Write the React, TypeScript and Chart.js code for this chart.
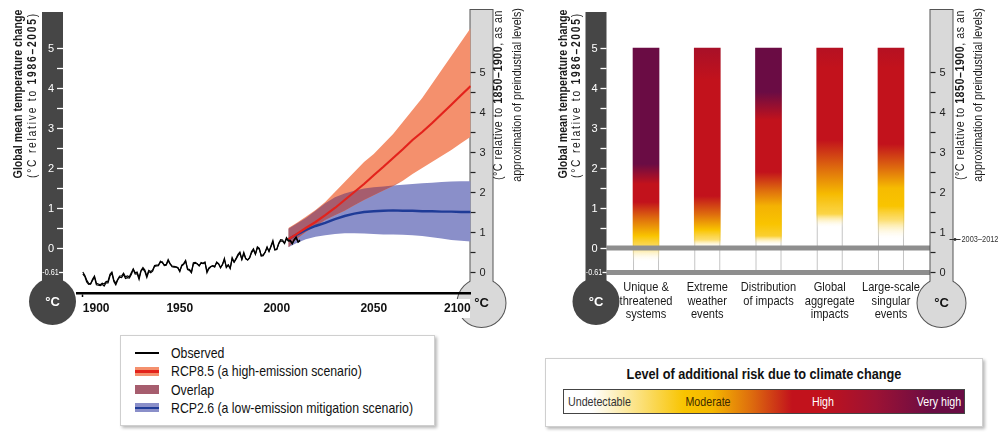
import React, { useEffect, useRef } from "react";
import { Chart, registerables } from "chart.js";

Chart.register(...registerables);

const SANS = '"Liberation Sans", Arial, sans-serif';
const SX = 0.82; // horizontal squeeze to imitate a condensed face

// ---------------- Data ----------------
// Observed global mean temperature change (°C relative to 1986–2005), annual from 1900
const observedStartYear = 1900;
const observedA = [
  -0.65, -0.71, -0.85, -0.91, -0.9, -0.81, -0.73, -0.92, -0.93, -0.94,
  -0.91, -0.95, -0.87, -0.87, -0.7, -0.63, -0.84, -0.92, -0.8, -0.73,
  -0.74, -0.66, -0.76, -0.74, -0.75, -0.66, -0.54, -0.65, -0.64, -0.79,
  -0.58, -0.52, -0.59, -0.74, -0.59, -0.62, -0.58, -0.46, -0.45, -0.44,
  -0.33, -0.37, -0.42, -0.41, -0.29, -0.39, -0.47, -0.48, -0.48, -0.5,
  -0.59, -0.43, -0.39, -0.31, -0.54, -0.56, -0.62, -0.37, -0.36, -0.39,
  -0.45, -0.36, -0.38, -0.35, -0.62, -0.52, -0.47, -0.45, -0.48, -0.35,
  -0.39, -0.5, -0.41, -0.26, -0.49, -0.43, -0.52, -0.24, -0.35, -0.26,
  -0.16, -0.1, -0.28, -0.11, -0.26, -0.3, -0.24, -0.09, -0.02, -0.15,
  0.03, -0.01, -0.2, -0.19, -0.1, 0.03, -0.09, 0.05, 0.19, -0.04,
  -0.03, 0.12, 0.21, 0.2, 0.12, 0.26, 0.19, 0.19, 0.12, 0.22,
  0.28, 0.16, 0.2,
];
const observedB = [
  -0.6, -0.68, -0.8, -0.88, -0.9, -0.78, -0.7, -0.88, -0.9, -0.92,
  -0.88, -0.9, -0.84, -0.83, -0.66, -0.6, -0.8, -0.88, -0.78, -0.7,
  -0.7, -0.63, -0.72, -0.7, -0.72, -0.62, -0.52, -0.62, -0.6, -0.74,
  -0.56, -0.49, -0.55, -0.7, -0.56, -0.59, -0.55, -0.44, -0.43, -0.42,
  -0.36, -0.35, -0.44, -0.43, -0.32, -0.4, -0.45, -0.46, -0.47, -0.49,
  -0.57, -0.45, -0.41, -0.33, -0.52, -0.54, -0.6, -0.4, -0.38, -0.4,
  -0.44, -0.38, -0.39, -0.37, -0.58, -0.5, -0.46, -0.44, -0.46, -0.37,
  -0.4, -0.48, -0.42, -0.29, -0.47, -0.42, -0.5, -0.27, -0.36, -0.28,
  -0.19, -0.13, -0.29, -0.14, -0.27, -0.3, -0.25, -0.12, -0.05, -0.16,
  0.0, -0.03, -0.19, -0.17, -0.11, 0.01, -0.08, 0.03, 0.15, -0.05,
  -0.04, 0.1, 0.18, 0.17, 0.11, 0.23, 0.17, 0.17, 0.1, 0.2,
  0.25, 0.14, 0.18,
];

// Projections (°C relative to 1986–2005)
const projectionYears = [2006, 2010, 2015, 2020, 2025, 2030, 2035, 2040, 2045, 2050, 2055, 2060, 2065, 2070, 2075, 2080, 2085, 2090, 2095, 2100];
const rcp85Mean = [0.22, 0.34, 0.5, 0.65, 0.82, 1.0, 1.2, 1.4, 1.6, 1.82, 2.03, 2.25, 2.47, 2.7, 2.9, 3.12, 3.35, 3.58, 3.82, 4.05];
const rcp85High = [0.5, 0.62, 0.78, 0.95, 1.15, 1.4, 1.65, 1.9, 2.15, 2.35, 2.6, 2.85, 3.15, 3.45, 3.75, 4.1, 4.45, 4.8, 5.15, 5.5];
const rcp85Low = [0.02, 0.22, 0.4, 0.55, 0.7, 0.82, 0.93, 1.07, 1.2, 1.32, 1.44, 1.55, 1.68, 1.85, 2.0, 2.15, 2.3, 2.45, 2.62, 2.78];
const rcp26Mean = [0.22, 0.33, 0.45, 0.55, 0.63, 0.72, 0.8, 0.86, 0.9, 0.92, 0.93, 0.94, 0.93, 0.93, 0.92, 0.92, 0.91, 0.91, 0.9, 0.9];
const rcp26High = [0.48, 0.6, 0.75, 0.93, 1.12, 1.27, 1.36, 1.43, 1.49, 1.52, 1.54, 1.56, 1.58, 1.6, 1.62, 1.63, 1.65, 1.66, 1.67, 1.67];
const rcp26Low = [0.02, 0.12, 0.22, 0.28, 0.32, 0.35, 0.37, 0.37, 0.36, 0.35, 0.34, 0.34, 0.33, 0.32, 0.3, 0.27, 0.24, 0.2, 0.18, 0.16];

const xTickYears = [1900, 1950, 2000, 2050, 2100];

// Thermometer scales
const preindustrialOffset = 0.61; // 1850–1900 is 0.61 °C below 1986–2005
const leftScaleTicks = [-0.61, 0, 0.5, 1, 1.5, 2, 2.5, 3, 3.5, 4, 4.5, 5];
const leftScaleLabels = ["-0.61", "0", "", "1", "", "2", "", "3", "", "4", "", "5"];
const rightScaleTicks = [0, 0.5, 1, 1.5, 2, 2.5, 3, 3.5, 4, 4.5, 5];
const rightScaleLabels = ["0", "", "1", "", "2", "", "3", "", "4", "", "5"];
const recentWarmingLabel = "2003–2012";
const recentWarming = 0.83; // relative to 1850–1900
const baselineLevels = [0, -0.61];

// Reasons for concern
const riskCategories = [
  ["Unique &", "threatened", "systems"],
  ["Extreme", "weather", "events"],
  ["Distribution", "of impacts"],
  ["Global", "aggregate", "impacts"],
  ["Large-scale", "singular", "events"],
];
const riskAssessedFrom = [-0.61, -0.61, -0.61, -0.61, -0.61];
const riskAssessedTo = [5, 5, 5, 5, 5];
// [temperature, risk level] ; 0 undetectable, 1 moderate, 2 high, 3 very high
const riskTransitions = [
  [[-0.35, 0], [0.05, 0.8], [0.3, 1], [0.75, 1.5], [1.15, 2], [1.6, 2], [2.1, 3]],
  [[0.0, 0], [0.2, 0.75], [0.45, 1], [0.85, 1.5], [1.3, 2], [4.2, 2], [5.0, 2.3]],
  [[0.05, 0], [0.3, 0.9], [0.6, 1], [1.05, 1.1], [1.45, 1.5], [1.9, 2], [3.2, 2], [3.9, 3]],
  [[0.5, 0], [0.85, 0.85], [1.35, 1.05], [2.0, 1.5], [2.7, 2], [4.5, 2], [5.0, 2.15]],
  [[0.2, 0], [0.7, 0.75], [1.05, 1], [1.5, 1.05], [2.0, 1.5], [2.6, 2], [4.5, 2], [5.0, 2.15]],
];
const riskLevelNames = ["Undetectable", "Moderate", "High", "Very high"];

// ---------------- Styles ----------------
const C = {
  rcp85Line: "#e3231c",
  rcp85Band: "#f4906d",
  overlap: "#a65d6e",
  rcp26Line: "#1f3b97",
  rcp26Band: "#8a8fc9",
  dark: "#464646",
  light: "#d9d9d9",
  baseline: "#8e8e8e",
};
const riskPalette = [
  [255, 255, 255, 0],
  [249, 196, 0, 1],
  [194, 18, 28, 1],
  [106, 12, 68, 1],
];
function riskColor(level: number) {
  const l = Math.max(0, Math.min(3, level));
  const i = Math.min(2, Math.floor(l));
  const f = l - i;
  const a = riskPalette[i], b = riskPalette[i + 1];
  const m = (k: number) => a[k] + (b[k] - a[k]) * f;
  return `rgba(${Math.round(m(0))},${Math.round(m(1))},${Math.round(m(2))},${m(3).toFixed(3)})`;
}

function narrowText(ctx: CanvasRenderingContext2D, text: string, x: number, y: number, font: string, align: CanvasTextAlign, color: string) {
  ctx.save();
  ctx.font = font;
  ctx.fillStyle = color;
  ctx.textAlign = align;
  ctx.textBaseline = "middle";
  ctx.translate(x, y);
  ctx.scale(SX, 1);
  ctx.fillText(text, 0, 0);
  ctx.restore();
}

const TUBE_TOP = 12;
const BULB_CY = 301.5;
const BULB_R = 23.5;
const TUBE_W = 21;

function drawDarkThermo(ctx: CanvasRenderingContext2D, cx: number, y: any) {
  ctx.save();
  ctx.fillStyle = C.dark;
  ctx.fillRect(cx - TUBE_W / 2, TUBE_TOP, TUBE_W, BULB_CY - TUBE_TOP);
  ctx.beginPath();
  ctx.arc(cx, BULB_CY, BULB_R, 0, Math.PI * 2);
  ctx.fill();
  const right = cx + TUBE_W / 2;
  leftScaleTicks.forEach((v, i) => {
    const py = Math.round(y.getPixelForValue(v)) + 0.5;
    const len = v < 0 ? 4 : 6;
    ctx.strokeStyle = "#fff";
    ctx.lineWidth = 1.3;
    ctx.beginPath();
    ctx.moveTo(right - len, py);
    ctx.lineTo(right, py);
    ctx.stroke();
    const lab = leftScaleLabels[i];
    if (lab) {
      if (v < 0) {
        narrowText(ctx, lab, right - len - 0.3, py, `8.8px ${SANS}`, "right", "#fff");
      } else {
        ctx.fillStyle = "#fff";
        ctx.textBaseline = "middle";
        ctx.textAlign = "right";
        ctx.font = `11px ${SANS}`;
        ctx.fillText(lab, cx + 1.5, py);
      }
    }
  });
  ctx.fillStyle = "#fff";
  ctx.font = `bold 13px ${SANS}`;
  ctx.textAlign = "center";
  ctx.textBaseline = "middle";
  ctx.fillText("°C", cx, BULB_CY + 1);
  ctx.restore();
}

function drawLightThermo(ctx: CanvasRenderingContext2D, cx: number, y: any, marker: boolean) {
  ctx.save();
  const w = 22;
  const top = 10;
  const cy = BULB_CY + 1.5;
  const r = 24;
  ctx.strokeStyle = "#555";
  ctx.lineWidth = 2;
  ctx.strokeRect(cx - w / 2, top, w, cy - top);
  ctx.beginPath();
  ctx.arc(cx, cy, r, 0, Math.PI * 2);
  ctx.stroke();
  ctx.fillStyle = C.light;
  ctx.fillRect(cx - w / 2, top, w, cy - top);
  ctx.beginPath();
  ctx.arc(cx, cy, r, 0, Math.PI * 2);
  ctx.fill();
  const left = cx - w / 2;
  rightScaleTicks.forEach((v, i) => {
    const py = Math.round(y.getPixelForValue(v - preindustrialOffset)) + 0.5;
    ctx.strokeStyle = "#222";
    ctx.lineWidth = 1.2;
    ctx.beginPath();
    ctx.moveTo(left, py);
    ctx.lineTo(left + 5, py);
    ctx.stroke();
    const lab = rightScaleLabels[i];
    if (lab) {
      ctx.fillStyle = "#222";
      ctx.font = `11px ${SANS}`;
      ctx.textAlign = "left";
      ctx.textBaseline = "middle";
      ctx.fillText(lab, cx - 2, py);
    }
  });
  if (marker) {
    const py = Math.round(y.getPixelForValue(recentWarming - preindustrialOffset)) + 0.5;
    const rx = cx + w / 2;
    ctx.strokeStyle = "#333";
    ctx.lineWidth = 1;
    ctx.beginPath();
    ctx.moveTo(rx - 3, py);
    ctx.lineTo(rx + 8, py);
    ctx.stroke();
    ctx.fillStyle = "#333";
    ctx.beginPath();
    ctx.arc(rx + 2.5, py, 1.4, 0, Math.PI * 2);
    ctx.fill();
    narrowText(ctx, recentWarmingLabel, rx + 9, py, `9px ${SANS}`, "left", "#333");
  }
  ctx.fillStyle = "#111";
  ctx.font = `bold 13px ${SANS}`;
  ctx.textAlign = "center";
  ctx.textBaseline = "middle";
  ctx.fillText("°C", cx, cy);
  ctx.restore();
}

type Seg = { t: string; b?: boolean };
function drawRotated(ctx: CanvasRenderingContext2D, x: number, cy: number, segs: Seg[], size: number, target: number) {
  ctx.save();
  ctx.translate(x, cy);
  ctx.rotate(-Math.PI / 2);
  ctx.scale(SX, 1);
  ctx.textBaseline = "middle";
  ctx.textAlign = "left";
  ctx.fillStyle = "#1a1a1a";
  const fonts = segs.map((s) => `${s.b ? "bold " : ""}${size}px ${SANS}`);
  const widths: number[] = [];
  let natural = 0;
  let chars = 0;
  segs.forEach((s, i) => {
    ctx.font = fonts[i];
    (ctx as any).letterSpacing = "0px";
    const w = ctx.measureText(s.t).width;
    widths.push(w);
    natural += w;
    chars += s.t.length;
  });
  const extra = target > 0 ? Math.max(0, (target / SX - natural) / chars) : 0;
  let xx = -(natural + extra * chars) / 2;
  segs.forEach((s, i) => {
    ctx.font = fonts[i];
    (ctx as any).letterSpacing = `${extra}px`;
    ctx.fillText(s.t, xx, 0);
    xx += widths[i] + extra * s.t.length;
  });
  ctx.restore();
}

function drawTitles(ctx: CanvasRenderingContext2D, xs: number[]) {
  drawRotated(ctx, xs[0], 94, [{ t: "Global mean temperature change", b: true }], 13, 0);
  drawRotated(ctx, xs[1], 95, [{ t: "(°C relative to " }, { t: "1986–2005", b: true }, { t: ")" }], 12.5, 166);
  drawRotated(ctx, xs[2], 95, [{ t: "(°C relative to " }, { t: "1850–1900", b: true }, { t: ", as an" }], 13, 170);
  drawRotated(ctx, xs[3], 95, [{ t: "approximation of preindustrial levels)" }], 13, 170);
}

const pts = (xs: number[], ys: number[]) => xs.map((x, i) => ({ x, y: ys[i] }));

function leftConfig(): any {
  const obsYears = observedA.map((_, i) => observedStartYear + i);
  const overlapLow = projectionYears.map((_, i) => Math.max(rcp85Low[i], rcp26Low[i]));
  const overlapHigh = projectionYears.map((_, i) => Math.max(overlapLow[i], Math.min(rcp85High[i], rcp26High[i])));
  const line = (label: string, data: any, color: string, width: number, order: number) => ({
    label, data, borderColor: color, borderWidth: width, pointRadius: 0, fill: false, order, tension: 0,
  });
  const edge = (label: string, data: any, order: number, fill?: number, bg?: string) => ({
    label, data, borderColor: "rgba(0,0,0,0)", borderWidth: 0, pointRadius: 0,
    backgroundColor: bg || "rgba(0,0,0,0)", fill: fill === undefined ? false : fill, order, tension: 0,
  });
  return {
    type: "line",
    data: {
      datasets: [
        line("Observed A", pts(obsYears, observedA), "#000", 1.2, 0),
        line("Observed B", pts(obsYears, observedB), "#000", 1.2, 0),
        line("RCP8.5", pts(projectionYears, rcp85Mean), C.rcp85Line, 2.2, 1),
        line("RCP2.6", pts(projectionYears, rcp26Mean), C.rcp26Line, 2.4, 2),
        edge("Overlap high", pts(projectionYears, overlapHigh), 3, 5, C.overlap),
        edge("Overlap low", pts(projectionYears, overlapLow), 3),
        edge("RCP8.5 high", pts(projectionYears, rcp85High), 4, 7, C.rcp85Band),
        edge("RCP8.5 low", pts(projectionYears, rcp85Low), 4),
        edge("RCP2.6 high", pts(projectionYears, rcp26High), 5, 9, C.rcp26Band),
        edge("RCP2.6 low", pts(projectionYears, rcp26Low), 5),
      ],
    },
    options: {
      animation: false,
      responsive: false,
      events: [],
      layout: { autoPadding: false, padding: { left: 77, right: 74.3, top: 12, bottom: 12 } },
      plugins: { legend: { display: false }, tooltip: { enabled: false } },
      scales: {
        x: {
          type: "linear",
          min: 1897,
          max: 2100,
          afterFit: (s: any) => { s.height = 25; },
          afterBuildTicks: (s: any) => { s.ticks = xTickYears.map((v) => ({ value: v })); },
          grid: {
            drawOnChartArea: false,
            drawTicks: true,
            tickLength: 4,
            tickWidth: 1.5,
            tickColor: (c: any) => (c.index === 0 ? "#000" : "rgba(0,0,0,0)"),
          },
          border: { display: true, color: "#000", width: 2.5 },
          ticks: {
            align: "inner",
            padding: 4,
            color: "#111",
            font: { family: SANS, size: 12, weight: "bold" },
            callback: (v: any) => String(v),
          },
        },
        y: { type: "linear", display: false, min: -1.125, max: 5.9 },
      },
    },
    plugins: [
      {
        id: "thermoLeft",
        beforeDraw(chart: any) {
          const ctx = chart.ctx;
          const y = chart.scales.y;
          drawDarkThermo(ctx, 52.5, y);
          drawLightThermo(ctx, 481.5, y, false);
          // white backing behind the last year label
          ctx.save();
          ctx.fillStyle = "#fff";
          ctx.fillRect(443, 299, 27, 19);
          ctx.restore();
          drawTitles(ctx, [18, 33, 498, 517]);
        },
      },
    ],
  };
}

function rightConfig(): any {
  return {
    type: "bar",
    data: {
      labels: riskCategories,
      datasets: [
        {
          label: "Risk",
          data: riskAssessedFrom.map((v, i) => [v, riskAssessedTo[i]]),
          barThickness: 26,
          borderWidth: 0,
          backgroundColor: (c: any) => {
            const chart = c.chart;
            const y = chart.scales && chart.scales.y;
            if (!y || !chart.chartArea) return "#c2121c";
            const i = c.dataIndex;
            const y0 = y.getPixelForValue(riskAssessedFrom[i]);
            const y1 = y.getPixelForValue(riskAssessedTo[i]);
            const g = chart.ctx.createLinearGradient(0, y0, 0, y1);
            const tr = riskTransitions[i];
            g.addColorStop(0, riskColor(tr[0][1]));
            tr.forEach(([t, lvl]) => {
              const p = (y.getPixelForValue(t) - y0) / (y1 - y0);
              g.addColorStop(Math.max(0, Math.min(1, p)), riskColor(lvl));
            });
            g.addColorStop(1, riskColor(tr[tr.length - 1][1]));
            return g;
          },
        },
      ],
    },
    options: {
      animation: false,
      responsive: false,
      events: [],
      layout: { autoPadding: false, padding: { left: 70.4, right: 79.4, top: 12, bottom: 7.6 } },
      plugins: { legend: { display: false }, tooltip: { enabled: false } },
      scales: {
        x: {
          type: "category",
          afterFit: (s: any) => { s.height = 50; },
          grid: { display: false, drawTicks: false },
          border: { display: false },
          ticks: { display: false, autoSkip: false },
        },
        y: { type: "linear", display: false, min: -0.61, max: 5.9 },
      },
    },
    plugins: [
      {
        id: "riskDecor",
        beforeDatasetsDraw(chart: any) {
          const ctx = chart.ctx;
          const meta = chart.getDatasetMeta(0);
          ctx.save();
          ctx.strokeStyle = "#c4c4c4";
          ctx.lineWidth = 1;
          meta.data.forEach((bar: any) => {
            const p = bar.getProps(["x", "y", "base", "width"], true);
            [p.x - p.width / 2 + 0.5, p.x + p.width / 2 - 0.5].forEach((xx) => {
              ctx.beginPath();
              ctx.moveTo(xx, Math.min(p.y, p.base));
              ctx.lineTo(xx, Math.max(p.y, p.base));
              ctx.stroke();
            });
          });
          ctx.restore();
        },
        afterDatasetsDraw(chart: any) {
          const ctx = chart.ctx;
          const y = chart.scales.y;
          ctx.save();
          ctx.strokeStyle = C.baseline;
          ctx.lineWidth = 5;
          baselineLevels.forEach((v) => {
            const py = y.getPixelForValue(v);
            ctx.beginPath();
            ctx.moveTo(51 + TUBE_W / 2, py);
            ctx.lineTo(396.5 - 11, py);
            ctx.stroke();
          });
          ctx.restore();
        },
        afterDraw(chart: any) {
          const ctx = chart.ctx;
          const y = chart.scales.y;
          const x = chart.scales.x;
          // category labels, placed with the category axis
          const bottom = chart.chartArea.bottom;
          (chart.data.labels as string[][]).forEach((lines, i) => {
            const px = x.getPixelForTick(i);
            lines.forEach((ln, k) => {
              narrowText(ctx, ln, px, bottom + 14.6 + k * 13.8, `13.5px ${SANS}`, "center", "#1a1a1a");
            });
          });
          drawDarkThermo(ctx, 51, y);
          drawLightThermo(ctx, 396.5, y, true);
          drawTitles(ctx, [18, 32, 415, 433]);
        },
      },
    ],
  };
}

const legendItems = [
  { label: "Observed", fill: "", line: "#000", lineW: 1.5 },
  { label: "RCP8.5 (a high-emission scenario)", fill: C.rcp85Band, line: C.rcp85Line, lineW: 2.5 },
  { label: "Overlap", fill: C.overlap, line: "", lineW: 0 },
  { label: "RCP2.6 (a low-emission mitigation scenario)", fill: C.rcp26Band, line: C.rcp26Line, lineW: 2.5 },
];

const squeeze = (origin: string) => ({ transform: `scaleX(${SX})`, transformOrigin: origin });

function ScenarioLegend() {
  return (
    <div
      style={{
        position: "absolute", left: 120, top: 335, width: 315, height: 91, boxSizing: "border-box",
        border: "1px solid #cfcfcf", boxShadow: "2px 2px 3px rgba(0,0,0,0.28)", background: "#fff",
      }}
    >
      {legendItems.map((it, i) => (
        <div key={i} style={{ position: "absolute", left: 0, top: 8 + i * 18.3, height: 18.3, width: "100%" }}>
          {it.fill ? (
            <div style={{ position: "absolute", left: 14, top: 4.6, width: 24, height: 9, background: it.fill }} />
          ) : null}
          {it.line ? (
            <div style={{ position: "absolute", left: 14, top: 9.15 - it.lineW / 2, width: 24, height: it.lineW, background: it.line }} />
          ) : null}
          <div
            style={{
              position: "absolute", left: 50, top: 0, lineHeight: "18.3px", fontFamily: SANS,
              fontSize: 15, color: "#111", whiteSpace: "nowrap", ...squeeze("left center"),
            }}
          >
            {it.label}
          </div>
        </div>
      ))}
    </div>
  );
}

function RiskLegend() {
  const lab = (text: string, style: any, origin: string) => (
    <div
      style={{
        position: "absolute", top: 0, lineHeight: "23px", fontFamily: SANS, fontSize: 13, whiteSpace: "nowrap",
        transformOrigin: origin, ...style,
      }}
    >
      {text}
    </div>
  );
  return (
    <div
      style={{
        position: "absolute", left: 545, top: 358, width: 438, height: 69, boxSizing: "border-box",
        border: "1px solid #cfcfcf", boxShadow: "2px 2px 3px rgba(0,0,0,0.28)", background: "#fff",
      }}
    >
      <div
        style={{
          position: "absolute", left: 0, top: 6, width: "100%", textAlign: "center", fontFamily: SANS,
          fontWeight: "bold", fontSize: 15.5, lineHeight: "18px", color: "#111", whiteSpace: "nowrap",
          ...squeeze("center center"),
        }}
      >
        Level of additional risk due to climate change
      </div>
      <div
        style={{
          position: "absolute", left: 17, top: 30, width: 402, height: 25, boxSizing: "border-box",
          border: "1px solid #444",
          background:
            "linear-gradient(to right, #fff 0%, #fff 7%, #f8c400 30%, #f5b800 37%, #dd6b0e 47%, #c2121c 57%, #c2121c 64%, #9c1234 78%, #6a0c44 92%, #6a0c44 100%)",
        }}
      >
        {lab(riskLevelNames[0], { left: 4, color: "#333", transform: `scaleX(${SX})` }, "left center")}
        {lab(riskLevelNames[1], { left: 144, color: "#3d2a00", transform: `translateX(-50%) scaleX(${SX})` }, "center center")}
        {lab(riskLevelNames[2], { left: 259, color: "#fff", transform: `translateX(-50%) scaleX(${SX})` }, "center center")}
        {lab(riskLevelNames[3], { right: 3, color: "#fff", transform: `scaleX(${SX})` }, "right center")}
      </div>
    </div>
  );
}

export default function App() {
  const leftRef = useRef<HTMLCanvasElement>(null);
  const rightRef = useRef<HTMLCanvasElement>(null);
  useEffect(() => {
    const c1 = new Chart(leftRef.current as HTMLCanvasElement, leftConfig());
    const c2 = new Chart(rightRef.current as HTMLCanvasElement, rightConfig());
    return () => {
      c1.destroy();
      c2.destroy();
    };
  }, []);
  return (
    <div style={{ position: "absolute", left: 0, top: 0, width: 1001, height: 445, background: "#fff", overflow: "hidden" }}>
      <canvas ref={leftRef} width={545} height={330} style={{ position: "absolute", left: 0, top: 0 }} />
      <canvas ref={rightRef} width={456} height={330} style={{ position: "absolute", left: 545, top: 0 }} />
      <ScenarioLegend />
      <RiskLegend />
    </div>
  );
}
